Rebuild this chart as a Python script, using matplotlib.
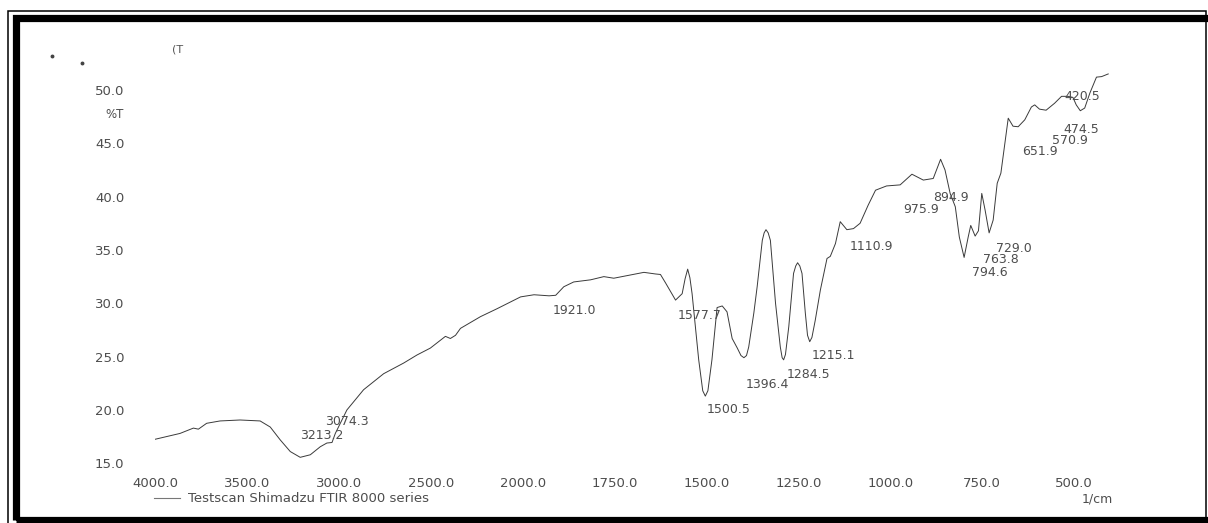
import numpy as np
import matplotlib
matplotlib.use("Agg")
import matplotlib.pyplot as plt
from matplotlib.lines import Line2D
from matplotlib.patches import Rectangle

# ---------------- data ----------------
wavenumber = [4000, 3864, 3791, 3764, 3719, 3646, 3537, 3428, 3373, 3319, 3264, 3210,
              3155, 3101, 3065, 3037, 3019, 2956, 2865, 2756, 2647, 2575, 2502, 2420,
              2393, 2365, 2338, 2229, 2138, 2011, 1969, 1928, 1910, 1888, 1861, 1815,
              1779, 1752, 1707, 1670, 1639, 1625, 1611, 1584, 1566, 1558, 1551, 1545, 1539, 1521,
              1510, 1503, 1496, 1485, 1471, 1457, 1444, 1430, 1416, 1406, 1398, 1391, 1385, 1371,
              1362, 1348, 1343, 1338, 1332, 1326, 1312, 1299, 1294, 1290, 1285, 1276, 1263, 1257,
              1252, 1246, 1240, 1231, 1225, 1219, 1213, 1204,
              1190, 1172, 1163, 1149, 1136, 1118, 1100, 1082, 1060, 1040, 1010, 973,
              941, 910, 883, 863, 851, 837, 823, 812, 799, 788, 781, 769, 760, 751,
              742, 731, 720, 709, 699, 688, 679, 666, 652, 634, 616, 607, 594, 576,
              553, 534, 516, 503, 494, 483, 471, 457, 439, 425, 407]
transmittance = [17.25, 17.8, 18.3, 18.2, 18.75, 18.97, 19.06, 18.97, 18.4, 17.2, 16.1, 15.56,
                 15.8, 16.55, 16.9, 16.95, 17.8, 20.0, 21.9, 23.4, 24.4, 25.15, 25.8, 26.9,
                 26.7, 27.0, 27.65, 28.75, 29.5, 30.6, 30.8, 30.7, 30.75, 31.55, 32.0, 32.2,
                 32.5, 32.35, 32.65, 32.9, 32.75, 32.7, 31.9, 30.3, 30.9, 32.3, 33.2, 32.4, 30.9, 24.7,
                 21.8, 21.3, 21.8, 24.7, 29.6, 29.75, 29.2, 26.7, 25.8, 25.1, 24.9, 25.1, 25.9, 29.1,
                 31.55, 35.9, 36.6, 36.9, 36.6, 35.9, 30.0, 25.9, 24.9, 24.7, 25.2, 27.8, 32.8, 33.5,
                 33.8, 33.5, 32.8, 29.1, 27.0, 26.4, 26.8, 28.4,
                 31.25, 34.2, 34.4, 35.6, 37.65, 36.9, 37.0, 37.5, 39.2, 40.6, 41.0, 41.1,
                 42.1, 41.55, 41.7, 43.5, 42.5, 40.3, 39.05, 36.2, 34.3, 36.2, 37.3, 36.3, 36.8, 40.3,
                 38.75, 36.6, 37.8, 41.25, 42.2, 45.0, 47.35, 46.6, 46.55, 47.2, 48.4, 48.6, 48.2, 48.1,
                 48.75, 49.4, 49.4, 49.3, 48.6, 48.05, 48.3, 49.7, 51.2, 51.25, 51.5]

peak_labels = ["3213.2", "3074.3", "1921.0", "1577.7", "1500.5", "1396.4", "1284.5",
               "1215.1", "1110.9", "975.9", "894.9", "794.6", "763.8", "729.0",
               "651.9", "570.9", "474.5", "420.5"]
# label anchor (left edge) positions in data units
label_x = [3210, 3074, 1919, 1579, 1500, 1394, 1283, 1213, 1111, 965, 884, 778, 748, 712,
           642, 561, 528, 527]
label_y = [17.65, 18.9, 29.3, 28.85, 20.05, 22.35, 23.37, 25.15, 35.3, 38.8, 39.94, 32.87,
           34.06, 35.09, 44.21, 45.24, 46.31, 49.43]

x_ticks = [4000, 3500, 3000, 2500, 2000, 1750, 1500, 1250, 1000, 750, 500]
y_ticks = [15, 20, 25, 30, 35, 40, 45, 50]

# ---------------- figure ----------------
W, H = 1208, 523
fig = plt.figure(figsize=(W / 100, H / 100), dpi=100)
fig.patch.set_facecolor("white")


def fx(px):
    return px / W


def fy(py):
    return 1 - py / H


TXT = "#4d4d4d"
FS = 9

ax = fig.add_axes([fx(155), fy(463.3), (1110.8 - 155) / W, (463.3 - 68.6) / H])


def fwd(w):
    w = np.asarray(w, float)
    return np.where(w > 2000, 2000 + (w - 2000) / 2.0, w)


def inv(p):
    p = np.asarray(p, float)
    return np.where(p > 2000, 2000 + 2.0 * (p - 2000), p)


ax.set_xscale("function", functions=(fwd, inv))
ax.set_xlim(4000, 400)
ax.set_ylim(15, 52)
for s in ax.spines.values():
    s.set_visible(False)
ax.set_facecolor("none")

ax.plot(wavenumber, transmittance, color="#3a3a3a", lw=0.7, solid_joinstyle="round")

ax.set_xticks(x_ticks)
ax.set_xticklabels([f"{t:.1f}" for t in x_ticks])
ax.set_yticks(y_ticks)
ax.set_yticklabels([f"{t:.1f}" for t in y_ticks])
ax.tick_params(axis="both", length=0, labelsize=FS + 0.5, labelcolor=TXT)
ax.tick_params(axis="x", pad=10)
ax.tick_params(axis="y", pad=22)
ax.minorticks_off()

for lab, lx, ly in zip(peak_labels, label_x, label_y):
    ax.text(lx, ly, lab, fontsize=FS, color=TXT, ha="left", va="center")

# axis captions / legend
fig.text(fx(124), fy(115), "%T", fontsize=FS - 0.5, color=TXT, ha="right", va="center")
fig.text(fx(1113), fy(499), "1/cm", fontsize=FS, color=TXT, ha="right", va="center")
fig.add_artist(Line2D([fx(154), fx(180)], [fy(498), fy(498)], color="#777777", lw=0.8))
fig.text(fx(188), fy(499), "Testscan Shimadzu FTIR 8000 series", fontsize=FS + 0.5, color=TXT,
         ha="left", va="center")

# scanning artefacts at top left
fig.text(fx(172), fy(49), "(T", fontsize=8, color="#555555", ha="left", va="center")
fig.add_artist(Line2D([fx(52)], [fy(56)], marker="o", ms=1.8, color="#444444", lw=0))
fig.add_artist(Line2D([fx(82)], [fy(63)], marker="o", ms=1.8, color="#444444", lw=0))

# double border
fig.add_artist(Rectangle((fx(15.5), fy(519.5)), fx(1215) - fx(15.5), fy(18) - fy(519.5),
                         fill=False, edgecolor="black", lw=5.2, transform=fig.transFigure))
fig.add_artist(Rectangle((fx(8), fy(530)), fx(1206) - fx(8), fy(11) - fy(530),
                         fill=False, edgecolor="black", lw=1.1, transform=fig.transFigure))

fig.savefig("out.png", dpi=100, facecolor="white")
